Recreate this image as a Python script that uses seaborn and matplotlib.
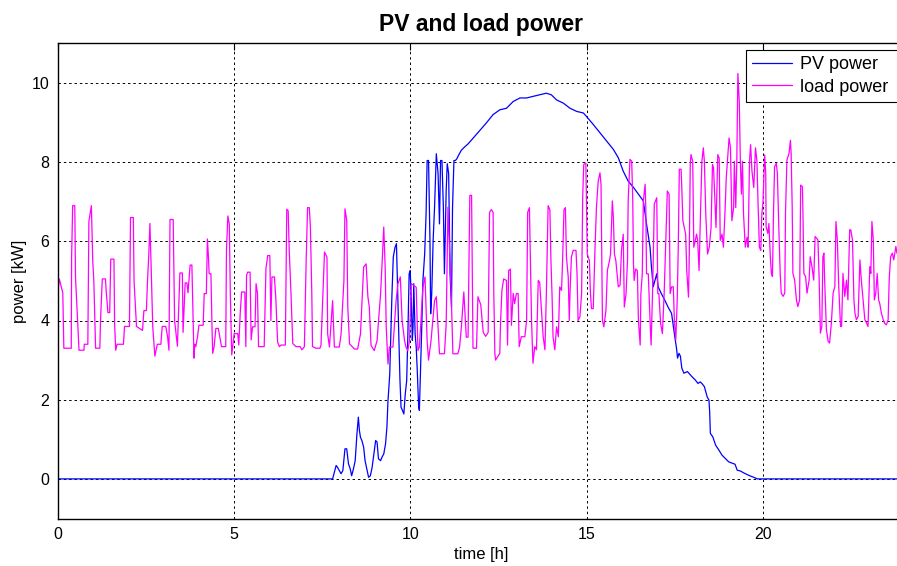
import numpy as np
import pandas as pd
import matplotlib
matplotlib.use("Agg")
import matplotlib.pyplot as plt
import seaborn as sns

# Load power [kW] over the day (time in hours)
load_time = [
    0.00, 0.05, 0.15, 0.18, 0.39, 0.40, 0.43, 0.49, 0.51, 0.61, 0.75, 0.76, 0.86, 0.89, 0.96,
    1.00, 1.03, 1.08, 1.20, 1.22, 1.27, 1.36, 1.38, 1.43, 1.48, 1.51, 1.60, 1.62, 1.65, 1.69,
    1.87, 1.90, 2.04, 2.07, 2.15, 2.17, 2.24, 2.41, 2.45, 2.52, 2.55, 2.59, 2.62, 2.66, 2.70,
    2.76, 2.83, 2.93, 2.97, 3.07, 3.12, 3.16, 3.19, 3.28, 3.32, 3.40, 3.47, 3.54, 3.56, 3.62,
    3.67, 3.70, 3.76, 3.81, 3.87, 3.89, 3.92, 3.97, 4.01, 4.13, 4.16, 4.22, 4.25, 4.28, 4.30,
    4.35, 4.38, 4.40, 4.44, 4.49, 4.56, 4.60, 4.65, 4.77, 4.79, 4.83, 4.87, 4.90, 4.94, 5.01,
    5.11, 5.14, 5.18, 5.22, 5.31, 5.34, 5.36, 5.39, 5.46, 5.49, 5.53, 5.60, 5.63, 5.67, 5.70,
    5.86, 5.91, 5.96, 6.02, 6.05, 6.08, 6.15, 6.19, 6.24, 6.29, 6.34, 6.46, 6.50, 6.54, 6.57,
    6.62, 6.67, 6.76, 6.88, 6.93, 7.00, 7.05, 7.09, 7.14, 7.17, 7.21, 7.23, 7.33, 7.44, 7.47,
    7.57, 7.64, 7.66, 7.71, 7.76, 7.80, 7.85, 7.99, 8.04, 8.12, 8.15, 8.20, 8.23, 8.28, 8.42,
    8.51, 8.59, 8.68, 8.75, 8.80, 8.84, 8.89, 8.98, 9.06, 9.16, 9.20, 9.25, 9.29, 9.32, 9.37,
    9.41, 9.51, 9.60, 9.65, 9.72, 9.77, 9.84, 9.88, 9.93, 9.98, 10.03, 10.17, 10.22, 10.26, 10.36,
    10.42, 10.48, 10.52, 10.59, 10.69, 10.74, 10.79, 10.83, 10.97, 11.02, 11.07, 11.16, 11.21, 11.35, 11.40,
    11.45, 11.52, 11.59, 11.64, 11.69, 11.74, 11.78, 11.88, 11.92, 12.00, 12.07, 12.14, 12.21, 12.25, 12.30,
    12.35, 12.37, 12.40, 12.42, 12.54, 12.56, 12.60, 12.65, 12.73, 12.76, 12.79, 12.84, 12.87, 12.92, 12.96,
    13.01, 13.06, 13.09, 13.15, 13.25, 13.30, 13.33, 13.38, 13.40, 13.44, 13.48, 13.53, 13.58, 13.63, 13.67,
    13.72, 13.77, 13.82, 13.86, 13.89, 13.91, 13.96, 13.99, 14.02, 14.05, 14.10, 14.15, 14.20, 14.24, 14.29,
    14.32, 14.36, 14.40, 14.43, 14.48, 14.51, 14.53, 14.57, 14.62, 14.70, 14.73, 14.76, 14.81, 14.86, 14.89,
    14.92, 14.98, 15.02, 15.08, 15.11, 15.14, 15.19, 15.24, 15.28, 15.33, 15.38, 15.41, 15.45, 15.49, 15.55,
    15.59, 15.65, 15.68, 15.73, 15.76, 15.79, 15.83, 15.90, 15.95, 15.99, 16.04, 16.07, 16.12, 16.16, 16.18,
    16.23, 16.28, 16.31, 16.33, 16.35, 16.39, 16.44, 16.47, 16.52, 16.54, 16.58, 16.61, 16.66, 16.68, 16.70,
    16.75, 16.80, 16.83, 16.87, 16.89, 16.92, 16.99, 17.02, 17.05, 17.10, 17.15, 17.20, 17.24, 17.29, 17.34,
    17.37, 17.41, 17.46, 17.49, 17.53, 17.57, 17.60, 17.63, 17.68, 17.70, 17.73, 17.77, 17.81, 17.84, 17.89,
    17.91, 17.94, 17.96, 18.01, 18.04, 18.08, 18.12, 18.15, 18.19, 18.22, 18.27, 18.31, 18.34, 18.38, 18.43,
    18.48, 18.53, 18.57, 18.60, 18.63, 18.67, 18.72, 18.76, 18.79, 18.84, 18.88, 18.93, 18.96, 19.00, 19.04,
    19.08, 19.12, 19.17, 19.19, 19.23, 19.26, 19.29, 19.33, 19.36, 19.39, 19.42, 19.45, 19.50, 19.55, 19.58,
    19.62, 19.65, 19.69, 19.74, 19.79, 19.83, 19.86, 19.90, 19.94, 19.97, 20.00, 20.05, 20.08, 20.09, 20.14,
    20.17, 20.21, 20.24, 20.27, 20.30, 20.33, 20.38, 20.41, 20.45, 20.49, 20.52, 20.57, 20.62, 20.64, 20.68,
    20.74, 20.78, 20.80, 20.83, 20.85, 20.90, 20.95, 20.99, 21.04, 21.07, 21.12, 21.14, 21.16, 21.21, 21.25,
    21.31, 21.34, 21.39, 21.44, 21.48, 21.52, 21.56, 21.59, 21.63, 21.67, 21.70, 21.73, 21.75, 21.80, 21.85,
    21.89, 21.94, 21.99, 22.04, 22.07, 22.11, 22.15, 22.20, 22.23, 22.27, 22.32, 22.37, 22.41, 22.46, 22.49,
    22.54, 22.58, 22.61, 22.65, 22.70, 22.75, 22.79, 22.84, 22.89, 22.94, 22.98, 23.03, 23.06, 23.09, 23.13,
    23.16, 23.20, 23.24, 23.28, 23.31, 23.36, 23.41, 23.45, 23.50, 23.55, 23.58, 23.62, 23.67, 23.71, 23.77,
    23.80, 23.90, 24.00,
]
load_power = [
    4.60, 5.05, 4.70, 3.30, 3.30, 5.60, 6.90, 6.90, 5.10, 3.25, 3.25, 3.40, 3.40, 6.50, 6.90,
    5.50, 5.00, 3.30, 3.30, 4.00, 5.05, 5.05, 4.75, 4.20, 4.20, 5.55, 5.55, 3.90, 3.25, 3.40,
    3.40, 3.85, 3.85, 6.60, 6.60, 5.00, 3.85, 3.75, 4.25, 4.25, 4.95, 5.70, 6.45, 5.20, 3.85,
    3.10, 3.40, 3.40, 3.85, 3.85, 3.60, 3.25, 6.55, 6.55, 4.00, 3.35, 5.20, 5.20, 3.70, 4.95,
    4.95, 4.70, 5.40, 5.40, 3.05, 3.40, 3.34, 3.59, 3.88, 3.88, 4.68, 4.68, 6.06, 5.60, 5.18,
    5.18, 3.84, 3.17, 3.34, 3.80, 3.80, 3.59, 3.34, 3.34, 5.77, 6.64, 6.44, 4.68, 3.13, 3.67,
    3.67, 3.38, 4.18, 4.72, 4.72, 3.34, 5.14, 5.22, 5.22, 3.51, 3.84, 3.84, 4.93, 4.68, 3.34,
    3.34, 5.31, 5.64, 5.64, 4.00, 5.10, 5.10, 4.55, 3.46, 3.34, 3.38, 3.38, 6.81, 6.77, 5.77,
    4.68, 3.42, 3.34, 3.34, 3.26, 3.34, 5.51, 6.85, 6.85, 6.35, 4.68, 3.34, 3.30, 3.30, 3.37,
    5.73, 5.60, 3.66, 3.33, 3.96, 4.50, 3.33, 3.33, 3.66, 5.00, 6.82, 6.53, 4.34, 3.41, 3.28,
    3.28, 3.66, 5.35, 5.43, 4.60, 4.34, 3.37, 3.24, 3.49, 4.67, 5.39, 6.36, 5.35, 3.83, 2.90,
    3.33, 3.33, 4.50, 4.93, 5.10, 4.00, 3.49, 3.33, 3.24, 3.49, 4.93, 4.84, 3.24, 3.33, 4.84,
    5.10, 3.49, 3.00, 3.49, 4.50, 4.60, 3.83, 3.16, 3.16, 3.91, 6.86, 4.76, 3.16, 3.16, 3.33,
    3.83, 4.72, 3.58, 3.58, 7.16, 7.16, 3.30, 3.30, 4.60, 4.40, 3.70, 3.60, 3.70, 6.73, 6.80,
    6.73, 4.68, 3.17, 3.00, 3.17, 3.92, 4.76, 5.05, 5.01, 3.38, 5.26, 5.30, 3.88, 4.68, 4.43,
    4.68, 4.68, 3.34, 3.59, 3.59, 4.00, 6.73, 6.85, 5.85, 4.00, 2.92, 3.34, 3.26, 5.01, 4.97,
    4.26, 3.59, 3.26, 4.68, 6.06, 6.90, 6.80, 5.51, 4.68, 3.59, 3.26, 3.84, 3.59, 4.85, 4.76,
    5.50, 6.80, 6.85, 5.60, 5.10, 4.00, 4.68, 5.60, 5.77, 5.77, 5.18, 4.00, 4.09, 4.68, 7.10,
    7.94, 7.98, 5.68, 5.51, 4.68, 4.30, 4.30, 5.85, 6.85, 7.52, 7.73, 7.44, 4.00, 3.84, 4.26,
    5.26, 5.51, 5.68, 7.02, 6.60, 5.68, 5.51, 4.85, 4.89, 5.77, 6.18, 4.34, 4.68, 5.51, 7.02,
    8.07, 8.02, 7.02, 5.43, 5.01, 5.30, 5.26, 4.00, 3.38, 4.68, 5.18, 7.02, 7.44, 6.85, 5.18,
    5.18, 4.00, 3.38, 4.68, 5.51, 6.94, 7.10, 4.68, 4.68, 3.92, 3.67, 4.68, 5.85, 7.27, 7.19,
    4.68, 4.85, 4.85, 4.00, 3.51, 4.51, 5.85, 7.82, 7.82, 7.36, 6.52, 6.35, 6.18, 5.26, 4.59,
    5.51, 7.94, 8.19, 8.02, 5.85, 6.02, 6.18, 6.02, 5.26, 6.35, 8.02, 8.36, 8.02, 6.69, 5.68,
    5.85, 6.35, 7.94, 7.86, 7.19, 6.35, 8.19, 8.10, 6.02, 6.18, 5.85, 6.85, 7.60, 8.10, 8.61,
    8.36, 6.52, 6.85, 8.02, 6.85, 8.02, 10.24, 9.53, 8.02, 7.19, 8.02, 6.69, 5.85, 6.10, 5.85,
    8.02, 8.44, 7.77, 7.36, 8.36, 8.02, 7.02, 5.85, 5.77, 6.70, 6.96, 8.18, 7.71, 6.37, 6.20,
    6.45, 5.61, 5.19, 5.11, 6.70, 7.88, 7.97, 7.71, 6.37, 5.19, 4.69, 4.61, 4.69, 6.70, 8.05,
    8.22, 8.55, 8.22, 6.87, 5.19, 5.02, 4.52, 4.35, 4.52, 7.42, 7.38, 6.45, 5.19, 5.11, 4.69,
    5.02, 5.61, 5.36, 5.02, 6.12, 6.08, 6.03, 5.19, 3.68, 3.85, 5.61, 5.70, 5.02, 3.77, 3.47,
    3.43, 3.93, 4.69, 4.86, 6.50, 6.03, 4.86, 3.85, 3.85, 5.19, 4.61, 5.02, 4.52, 6.29, 6.29,
    6.03, 4.52, 4.18, 4.02, 4.10, 5.53, 5.02, 4.52, 4.02, 3.93, 3.85, 5.36, 5.19, 6.50, 6.03,
    4.52, 4.69, 5.19, 4.52, 4.44, 4.18, 4.02, 3.93, 3.89, 4.02, 5.02, 5.61, 5.70, 5.53, 5.87,
    5.70, 5.60, 5.80,
]

# PV generation [kW] over the day
pv_time = [
    0.00, 7.80, 7.90, 7.94, 7.99, 8.04, 8.09, 8.15, 8.20, 8.25, 8.30, 8.34, 8.39, 8.44, 8.49,
    8.53, 8.56, 8.59, 8.63, 8.68, 8.72, 8.77, 8.82, 8.87, 8.92, 8.97, 9.02, 9.06, 9.10, 9.16,
    9.20, 9.25, 9.30, 9.34, 9.37, 9.39, 9.42, 9.45, 9.48, 9.52, 9.57, 9.61, 9.65, 9.68, 9.71,
    9.74, 9.78, 9.82, 9.86, 9.90, 9.93, 9.97, 10.00, 10.03, 10.06, 10.08, 10.10, 10.14, 10.17, 10.20,
    10.24, 10.26, 10.29, 10.33, 10.36, 10.41, 10.45, 10.48, 10.52, 10.56, 10.58, 10.61, 10.65, 10.69, 10.74,
    10.79, 10.83, 10.86, 10.90, 10.94, 10.97, 11.02, 11.05, 11.09, 11.13, 11.17, 11.20, 11.24, 11.28, 11.32,
    11.37, 11.45, 11.54, 11.64, 11.73, 12.16, 12.35, 12.54, 12.73, 12.92, 13.11, 13.30, 13.48, 13.67, 13.86,
    14.00, 14.15, 14.34, 14.53, 14.72, 14.91, 15.00, 15.19, 15.38, 15.57, 15.76, 15.90, 16.04, 16.18, 16.33,
    16.47, 16.61, 16.70, 16.80, 16.84, 16.89, 16.94, 16.99, 17.03, 17.12, 17.22, 17.31, 17.41, 17.50, 17.55,
    17.58, 17.62, 17.66, 17.70, 17.76, 17.86, 17.99, 18.08, 18.16, 18.22, 18.27, 18.34, 18.42, 18.47, 18.49,
    18.51, 18.58, 18.66, 18.75, 18.84, 18.94, 19.03, 19.15, 19.21, 19.27, 19.36, 19.46, 19.60, 19.74, 19.84,
    24.00,
]
pv_power = [
    0.00, 0.00, 0.34, 0.29, 0.21, 0.13, 0.21, 0.76, 0.76, 0.38, 0.25, 0.08, 0.25, 0.46, 1.14,
    1.56, 1.22, 1.05, 0.97, 0.80, 0.46, 0.25, 0.04, 0.08, 0.29, 0.63, 0.97, 0.93, 0.51, 0.46,
    0.55, 0.63, 0.88, 1.31, 1.98, 2.23, 2.65, 3.66, 4.59, 5.60, 5.85, 5.94, 4.51, 3.50, 2.48,
    1.81, 1.73, 1.64, 2.15, 2.48, 3.50, 5.18, 5.26, 4.51, 3.50, 3.83, 4.93, 3.66, 3.33, 2.74,
    1.81, 1.73, 2.65, 3.92, 5.00, 5.68, 6.69, 8.04, 8.04, 6.02, 4.17, 4.67, 6.02, 6.86, 8.21,
    7.71, 6.44, 8.04, 8.04, 6.86, 5.18, 7.28, 7.96, 7.71, 5.18, 4.34, 6.86, 8.04, 8.04, 8.08,
    8.17, 8.30, 8.38, 8.46, 8.55, 8.99, 9.20, 9.32, 9.36, 9.53, 9.62, 9.62, 9.66, 9.70, 9.74,
    9.70, 9.57, 9.49, 9.36, 9.28, 9.24, 9.15, 8.95, 8.74, 8.53, 8.32, 8.11, 7.77, 7.52, 7.36,
    7.19, 7.02, 6.44, 5.85, 5.35, 4.85, 5.02, 5.18, 4.85, 4.68, 4.51, 4.34, 4.18, 3.60, 3.30,
    3.05, 3.17, 3.10, 2.80, 2.67, 2.71, 2.58, 2.50, 2.41, 2.45, 2.41, 2.33, 2.07, 1.99, 1.70,
    1.15, 1.06, 0.85, 0.73, 0.60, 0.51, 0.43, 0.39, 0.37, 0.22, 0.20, 0.15, 0.09, 0.04, 0.00,
    0.00,
]

x_ticks = [0, 5, 10, 15, 20]
y_ticks = [0, 2, 4, 6, 8, 10]

sns.set_style("white")
plt.rcParams["font.family"] = ["Liberation Sans", "DejaVu Sans"]
plt.rcParams["text.color"] = "black"
plt.rcParams["axes.labelcolor"] = "black"
plt.rcParams["xtick.color"] = "black"
plt.rcParams["ytick.color"] = "black"

pv_df = pd.DataFrame({"time": pv_time, "power": pv_power})
load_df = pd.DataFrame({"time": load_time, "power": load_power})

fig = plt.figure(figsize=(8.97, 5.66), dpi=100)
ax = fig.add_axes([57.5 / 897, 47.5 / 566, 846.5 / 897, 475.2 / 566])

sns.lineplot(data=pv_df, x="time", y="power", ax=ax, color="#0000ff",
             linewidth=0.9, estimator=None, sort=False, label="PV power")
sns.lineplot(data=load_df, x="time", y="power", ax=ax, color="#ff00ff",
             linewidth=0.9, estimator=None, sort=False, label="load power")

ax.set_xlim(0, 24)
ax.set_ylim(-1, 11)
ax.set_xticks(x_ticks)
ax.set_yticks(y_ticks)
ax.tick_params(axis="both", direction="in", length=5, width=0.8, labelsize=11.5,
               top=True, right=True, pad=6, colors="black", labelcolor="black")

ax.grid(True, color="black", linestyle=(0, (2.5, 3)), linewidth=0.7)
ax.set_axisbelow(True)
for side in ax.spines.values():
    side.set_color("black")
    side.set_linewidth(1.0)

ax.set_title("PV and load power", fontsize=16.5, fontweight="bold", pad=9, color="black")
ax.set_xlabel("time [h]", fontsize=12, labelpad=4, color="black")
ax.set_ylabel("power [kW]", fontsize=12, labelpad=3, color="black")

# Legend box spans from its left edge past the right border of the figure
leg_left = (746 - 57.5) / 846.5
leg_top = (518.7 - 50) / 475.2
leg_bottom = (518.7 - 103) / 475.2
leg = ax.legend(loc="upper left",
                bbox_to_anchor=(leg_left, leg_bottom, 1.03 - leg_left, leg_top - leg_bottom),
                mode="expand", frameon=True, fancybox=False, framealpha=1, edgecolor="black",
                fontsize=13, handlelength=2.2, handletextpad=0.45, borderpad=0.35,
                labelspacing=0.3, borderaxespad=0)
leg.get_frame().set_linewidth(0.8)
for txt in leg.get_texts():
    txt.set_color("black")

fig.savefig("out.png", dpi=100)
